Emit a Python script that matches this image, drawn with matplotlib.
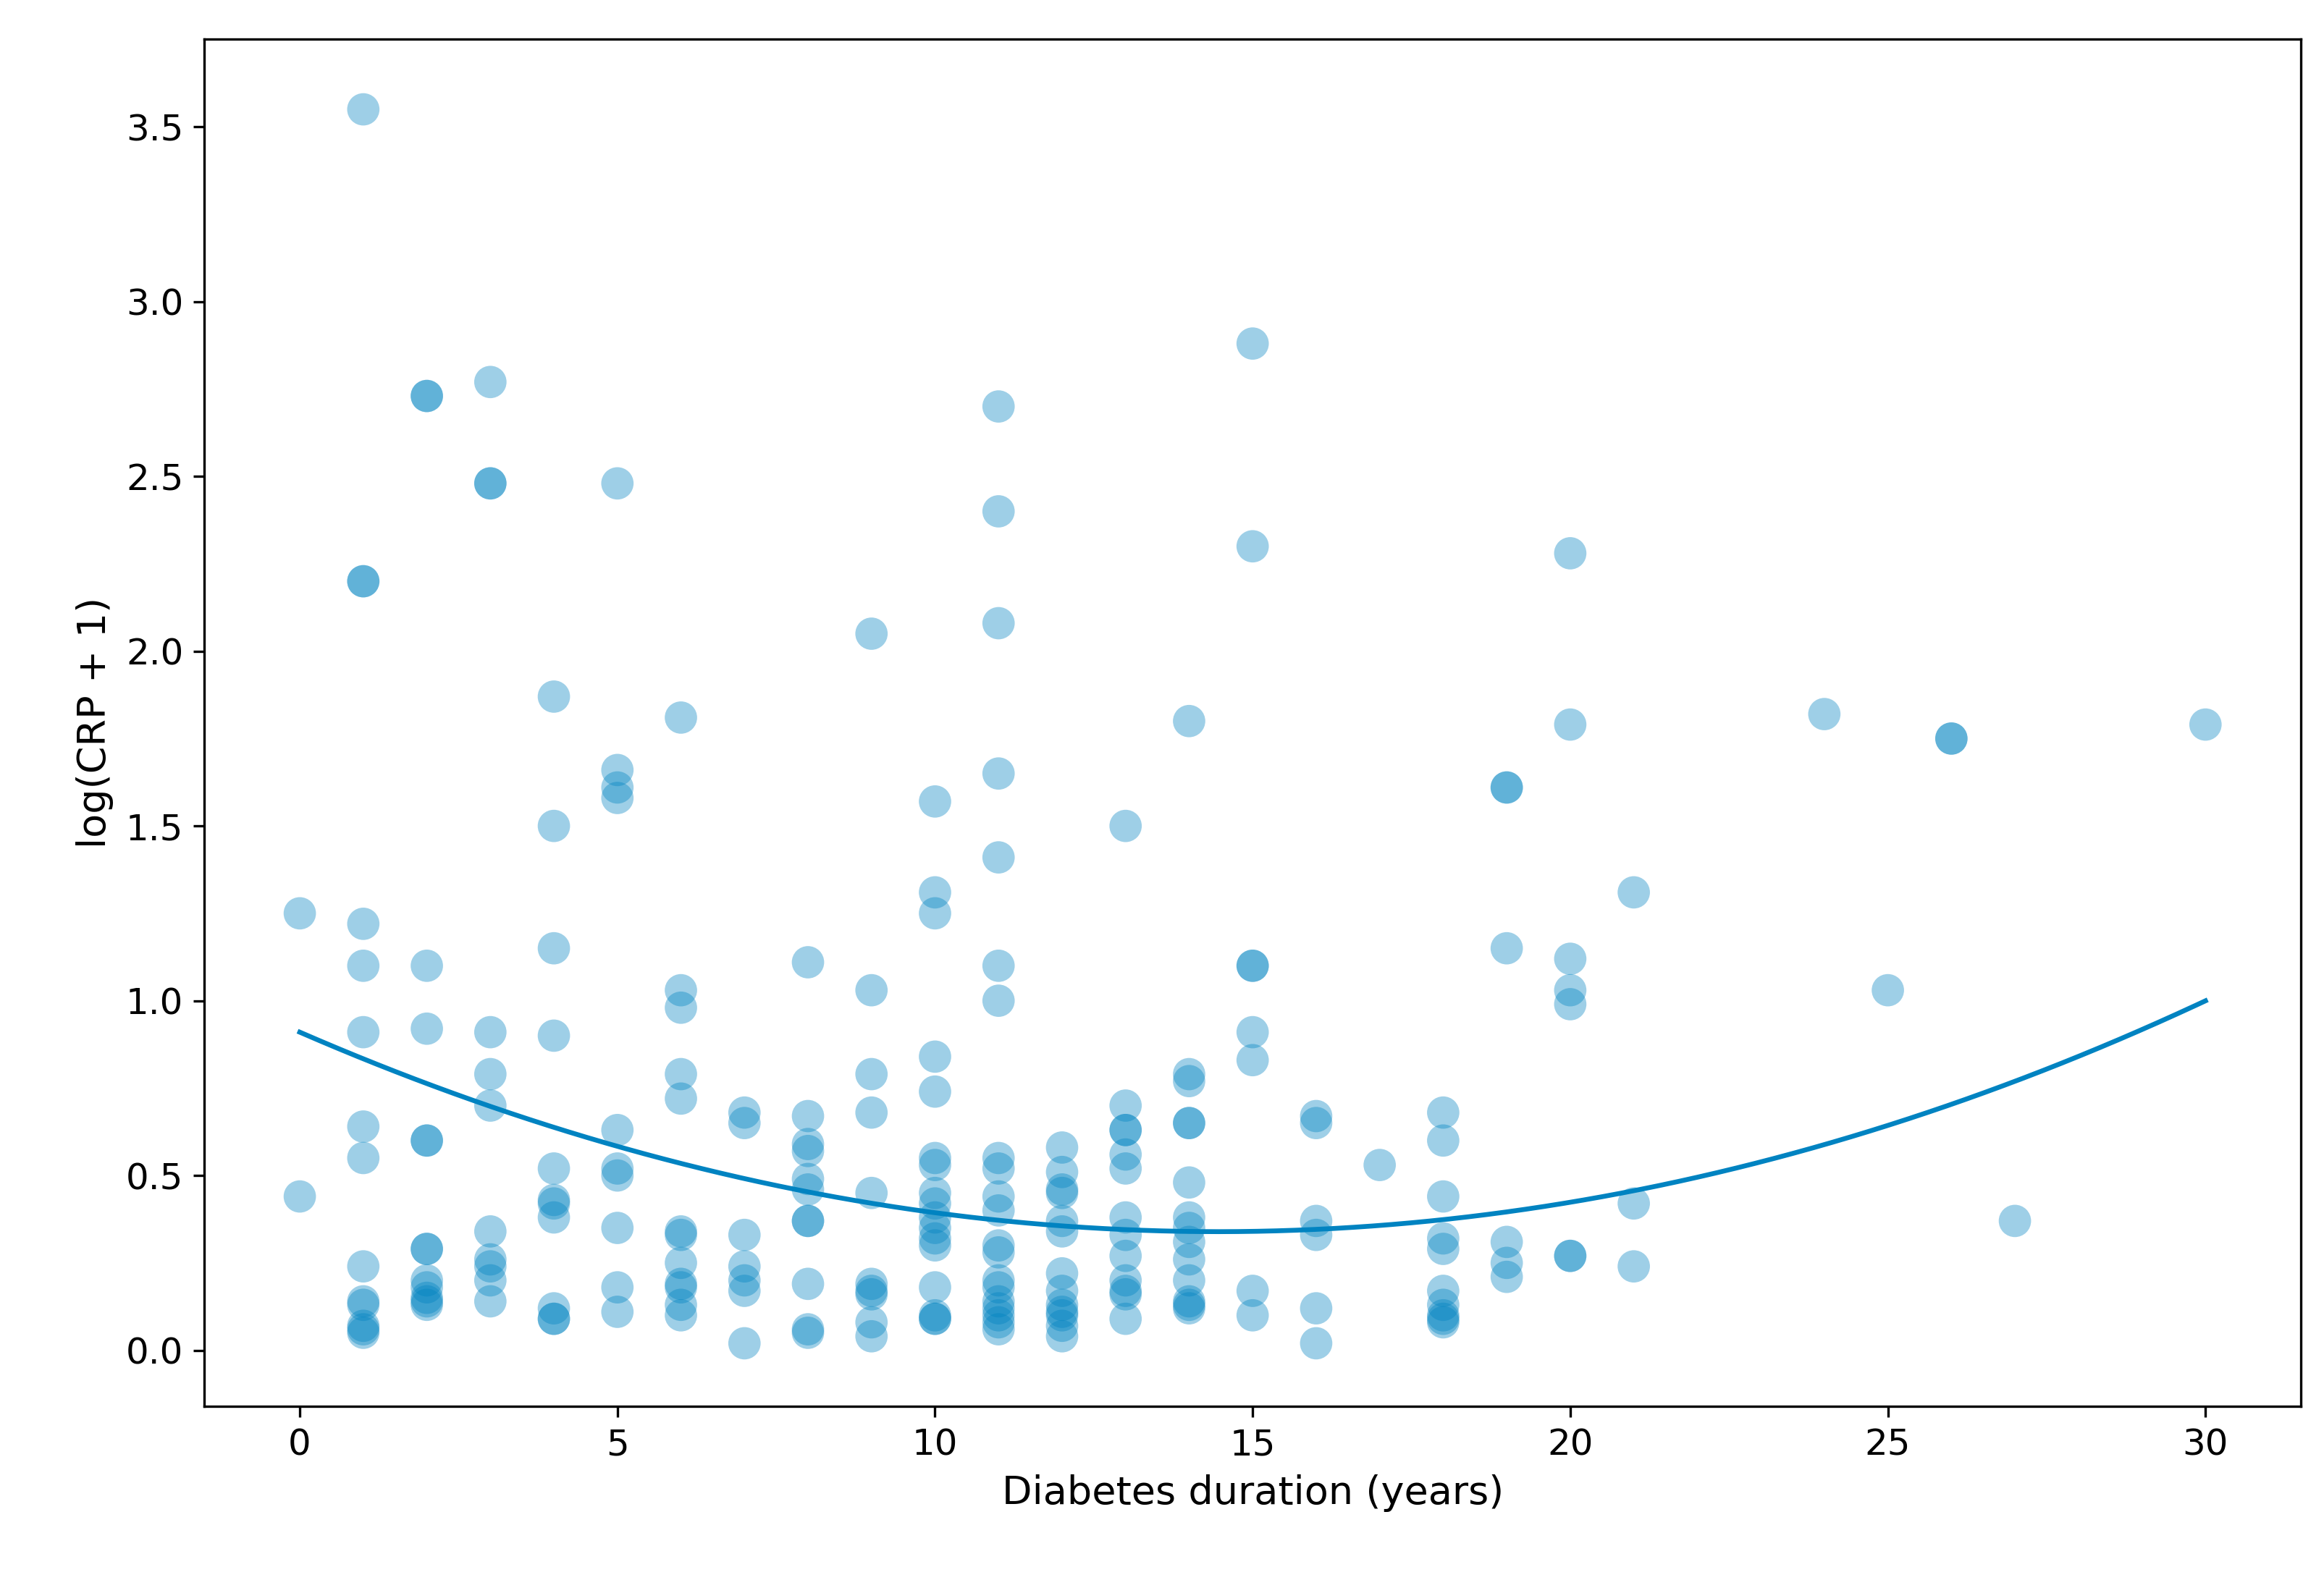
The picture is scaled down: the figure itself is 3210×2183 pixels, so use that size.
import matplotlib.pyplot as plt
import numpy as np

# diabetes duration (years) -> log(CRP + 1) values
crp_by_year = {
    0: [1.25, 0.44],
    1: [3.55, 2.2, 2.2, 1.22, 1.1, 0.91, 0.64, 0.55, 0.24, 0.14, 0.13, 0.07, 0.05, 0.06],
    2: [2.73, 2.73, 1.1, 0.92, 0.6, 0.6, 0.29, 0.29, 0.2, 0.18, 0.15, 0.13, 0.14],
    3: [2.77, 2.48, 2.48, 0.91, 0.79, 0.7, 0.34, 0.26, 0.24, 0.2, 0.14],
    4: [1.87, 1.5, 1.15, 0.9, 0.52, 0.43, 0.42, 0.38, 0.12, 0.09, 0.09],
    5: [2.48, 1.66, 1.61, 1.58, 0.63, 0.52, 0.5, 0.35, 0.18, 0.11],
    6: [1.81, 1.03, 0.98, 0.79, 0.72, 0.34, 0.33, 0.25, 0.19, 0.18, 0.13, 0.1],
    7: [0.68, 0.65, 0.33, 0.24, 0.2, 0.17, 0.02],
    8: [1.11, 0.67, 0.59, 0.57, 0.49, 0.46, 0.37, 0.37, 0.19, 0.06, 0.05],
    9: [2.05, 1.03, 0.79, 0.68, 0.45, 0.19, 0.17, 0.16, 0.08, 0.04],
    10: [1.57, 1.31, 1.25, 0.84, 0.74, 0.55, 0.53, 0.45, 0.42, 0.38, 0.35, 0.32, 0.3,
         0.18, 0.1, 0.09, 0.09],
    11: [2.7, 2.4, 2.08, 1.65, 1.41, 1.1, 1.0, 0.55, 0.52, 0.44, 0.4, 0.3, 0.28, 0.2,
         0.18, 0.14, 0.12, 0.1, 0.08, 0.06],
    12: [0.58, 0.51, 0.46, 0.45, 0.37, 0.34, 0.22, 0.17, 0.13, 0.11, 0.1, 0.07, 0.04],
    13: [1.5, 0.7, 0.63, 0.63, 0.56, 0.52, 0.38, 0.33, 0.27, 0.2, 0.17, 0.16, 0.09],
    14: [1.8, 0.79, 0.77, 0.65, 0.65, 0.48, 0.38, 0.35, 0.31, 0.26, 0.2, 0.14, 0.12, 0.13],
    15: [2.88, 2.3, 1.1, 1.1, 0.91, 0.83, 0.17, 0.1],
    16: [0.67, 0.65, 0.37, 0.33, 0.12, 0.02],
    17: [0.53],
    18: [0.68, 0.6, 0.44, 0.32, 0.29, 0.17, 0.13, 0.09, 0.08, 0.1],
    19: [1.61, 1.61, 1.15, 0.31, 0.25, 0.21],
    20: [2.28, 1.79, 1.12, 1.03, 0.99, 0.27, 0.27],
    21: [1.31, 0.42, 0.24],
    24: [1.82],
    25: [1.03],
    26: [1.75, 1.75],
    27: [0.37],
    30: [1.79],
}

# quadratic trend coefficients (a*x^2 + b*x + c)
fit_coef = [0.002732, -0.07897, 0.91]

duration = np.array([k for k, v in crp_by_year.items() for _ in v])
log_crp = np.array([y for v in crp_by_year.values() for y in v])

color = '#0083c1'
fig = plt.figure(figsize=(10.7, 7.277), dpi=300)
ax = fig.add_axes([0.088, 0.11, 0.902, 0.865])
ax.scatter(duration, log_crp, s=115, color=color, alpha=0.38, edgecolor='none')

xs = np.linspace(0, 30, 200)
ax.plot(xs, np.polyval(fit_coef, xs), color=color, lw=1.6)

ax.set_xlim(-1.5, 31.5)
ax.set_ylim(-0.16, 3.75)
ax.set_xticks(range(0, 31, 5))
ax.set_yticks(np.arange(0, 3.6, 0.5))
ax.tick_params(labelsize=12)
ax.set_xlabel('Diabetes duration (years)', fontsize=13)
ax.set_ylabel('log(CRP + 1)', fontsize=13)
plt.savefig('out.png')
